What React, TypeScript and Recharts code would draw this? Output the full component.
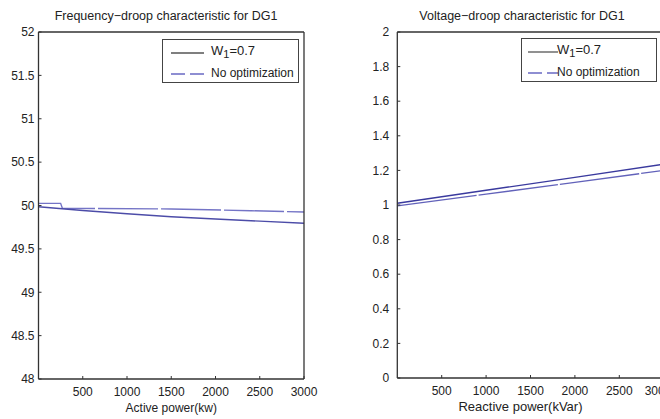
import { LineChart, Line, XAxis, YAxis } from "recharts"

const powerTicks = [500, 1000, 1500, 2000, 2500, 3000]
const freqTicks = [48, 48.5, 49, 49.5, 50, 50.5, 51, 51.5, 52]
const voltTicks = [0, 0.2, 0.4, 0.6, 0.8, 1, 1.2, 1.4, 1.6, 1.8, 2]

const freqPowerW1 = [0, 500, 1000, 1500, 2000, 2500, 3000]
const freqW1 = [49.985, 49.943, 49.905, 49.87, 49.845, 49.82, 49.795]
const freqPowerNoOpt = [0, 250, 270, 1500, 2400, 3000]
const freqNoOpt = [50.025, 50.025, 49.968, 49.96, 49.94, 49.925]

const voltPower = [0, 1000, 2000, 3000]
const voltW1 = [1.01, 1.085, 1.16, 1.236]
const voltNoOpt = [0.995, 1.063, 1.131, 1.2]

const zip = (xs: number[], ys: number[]) => xs.map((x, i) => ({ x, y: ys[i] }))

const FONT = "'Liberation Sans', Arial, sans-serif"
const AXIS = "#333"
const tickFont = { fill: "#222", fontSize: 12, fontFamily: FONT }

function Legend({ left, top, width, lineX, textX }: { left: number; top: number; width: number; lineX: [number, number]; textX: number }) {
  return (
    <div
      style={{
        position: "absolute",
        left,
        top,
        width,
        height: 44,
        border: "1.3px solid #444",
        background: "#fff",
        fontFamily: FONT,
        color: "#222",
        boxSizing: "border-box",
      }}
    >
      <svg width={width} height={44} style={{ position: "absolute", left: 0, top: 0 }}>
        <line x1={lineX[0]} x2={lineX[1]} y1={13} y2={13} stroke="#555" strokeWidth={1.3} />
        <line x1={lineX[0]} x2={lineX[1]} y1={34} y2={34} stroke="#6a6ac4" strokeWidth={1.3} strokeDasharray="14 5" />
      </svg>
      <span style={{ position: "absolute", left: textX, top: 3, fontSize: 13, lineHeight: "16px", whiteSpace: "nowrap" }}>
        W<sub style={{ fontSize: 11, verticalAlign: "-3px" }}>1</sub>=0.7
      </span>
      <span style={{ position: "absolute", left: textX, top: 26, fontSize: 12, lineHeight: "15px", whiteSpace: "nowrap" }}>
        No optimization
      </span>
    </div>
  )
}

function FrequencyChart() {
  return (
    <LineChart width={330} height={419} margin={{ top: 32, right: 26, bottom: 7, left: 8 }}>
      <XAxis
        xAxisId="b"
        type="number"
        dataKey="x"
        domain={[0, 3000]}
        ticks={powerTicks}
        tickSize={-3}
        tickMargin={11}
        tickLine={{ stroke: AXIS }}
        axisLine={{ stroke: AXIS, strokeWidth: 1.3 }}
        tick={tickFont}
        height={33}
        label={{ value: "Active  power(kw)", position: "insideBottom", offset: 0, fill: "#222", fontSize: 12, fontFamily: FONT }}
      />
      <XAxis
        xAxisId="t"
        orientation="top"
        type="number"
        domain={[0, 3000]}
        allowDataOverflow
        ticks={powerTicks}
        mirror
        tick={false}
        tickSize={3}
        tickLine={{ stroke: AXIS }}
        axisLine={{ stroke: AXIS, strokeWidth: 1.3 }}
      />
      <YAxis
        yAxisId="l"
        type="number"
        domain={[48, 52]}
        ticks={freqTicks}
        width={30.5}
        tickSize={-3}
        tickMargin={7}
        tickLine={{ stroke: AXIS }}
        axisLine={{ stroke: AXIS, strokeWidth: 1.3 }}
        tick={tickFont}
      />
      <YAxis
        yAxisId="r"
        orientation="right"
        type="number"
        domain={[48, 52]}
        allowDataOverflow
        ticks={freqTicks}
        mirror
        tick={false}
        tickSize={3}
        tickLine={{ stroke: AXIS }}
        axisLine={{ stroke: AXIS, strokeWidth: 1.3 }}
      />
      <Line
        xAxisId="b"
        yAxisId="l"
        data={zip(freqPowerNoOpt, freqNoOpt)}
        dataKey="y"
        type="linear"
        stroke="#7474c6"
        strokeWidth={1.4}
        strokeDasharray="60 3"
        dot={false}
        isAnimationActive={false}
      />
      <Line
        xAxisId="b"
        yAxisId="l"
        data={zip(freqPowerW1, freqW1)}
        dataKey="y"
        type="linear"
        stroke="#4c4ca8"
        strokeWidth={1.4}
        dot={false}
        isAnimationActive={false}
      />
    </LineChart>
  )
}

function VoltageChart() {
  return (
    <LineChart width={340} height={419} margin={{ top: 32, right: 6.3, bottom: 8, left: 20 }}>
      <XAxis
        xAxisId="b"
        type="number"
        dataKey="x"
        domain={[0, 3000]}
        ticks={powerTicks}
        tickSize={-3}
        tickMargin={11}
        tickLine={{ stroke: AXIS }}
        axisLine={{ stroke: AXIS, strokeWidth: 1.3 }}
        tick={tickFont}
        height={33}
        label={{ value: "Reactive power(kVar)", position: "insideBottom", offset: 0, dx: -10, fill: "#222", fontSize: 13, fontFamily: FONT }}
      />
      <XAxis
        xAxisId="t"
        orientation="top"
        type="number"
        domain={[0, 3000]}
        allowDataOverflow
        ticks={powerTicks}
        mirror
        tick={false}
        tickSize={3}
        tickLine={{ stroke: AXIS }}
        axisLine={{ stroke: AXIS, strokeWidth: 1.3 }}
      />
      <YAxis
        yAxisId="l"
        type="number"
        domain={[0, 2]}
        ticks={voltTicks}
        width={47.3}
        tickSize={-3}
        tickMargin={11}
        tickLine={{ stroke: AXIS }}
        axisLine={{ stroke: AXIS, strokeWidth: 1.3 }}
        tick={tickFont}
      />
      <YAxis
        yAxisId="r"
        orientation="right"
        type="number"
        domain={[0, 2]}
        allowDataOverflow
        ticks={voltTicks}
        mirror
        tick={false}
        tickSize={3}
        tickLine={{ stroke: AXIS }}
        axisLine={{ stroke: AXIS, strokeWidth: 1.3 }}
      />
      <Line
        xAxisId="b"
        yAxisId="l"
        data={zip(voltPower, voltNoOpt)}
        dataKey="y"
        type="linear"
        stroke="#6262ba"
        strokeWidth={1.4}
        strokeDasharray="80 2"
        dot={false}
        isAnimationActive={false}
      />
      <Line
        xAxisId="b"
        yAxisId="l"
        data={zip(voltPower, voltW1)}
        dataKey="y"
        type="linear"
        stroke="#3a3a9e"
        strokeWidth={1.4}
        dot={false}
        isAnimationActive={false}
      />
    </LineChart>
  )
}

const titleStyle = {
  position: "absolute" as const,
  top: 9,
  fontFamily: FONT,
  fontSize: 12.5,
  color: "#222",
  whiteSpace: "nowrap" as const,
  transform: "translateX(-50%)",
}

export default function App() {
  return (
    <div style={{ position: "absolute", left: 0, top: 0, width: 660, height: 419, overflow: "hidden", background: "#fff" }}>
      <div style={{ position: "absolute", left: 0, top: 0 }}>
        <FrequencyChart />
      </div>
      <div style={{ position: "absolute", left: 330, top: 0 }}>
        <VoltageChart />
      </div>
      <div style={{ ...titleStyle, left: 166 }}>Frequency−droop characteristic for DG1</div>
      <div style={{ ...titleStyle, left: 522 }}>Voltage−droop characteristic for DG1</div>
      <Legend left={162} top={39} width={137} lineX={[8, 41]} textX={48} />
      <Legend left={521} top={38} width={136} lineX={[6, 36]} textX={35} />
    </div>
  )
}
